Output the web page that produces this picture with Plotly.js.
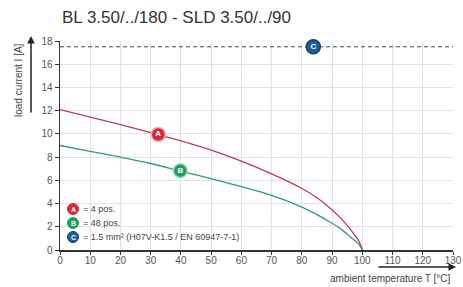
<!DOCTYPE html>
<html>
<head>
<meta charset="utf-8">
<script src="https://cdn.plot.ly/plotly-3.0.1.min.js"></script>
<style>html,body{margin:0;padding:0;background:#fff;}#chart{width:463px;height:287px;}</style>
</head>
<body>
<div id="chart"></div>
<script>
// Derating curves (ambient temperature °C -> load current A)
const tempA = [0,10,20,30,40,50,60,70,80,85,90,93,96,98,99,100];
const currentA = [12.1,11.45,10.8,10.1,9.4,8.6,7.65,6.55,5.3,4.5,3.45,2.7,1.8,1.1,0.7,0];
const tempB = [0,10,20,30,40,50,60,70,80,85,90,93,96,98,99,100];
const currentB = [9.0,8.5,8.0,7.45,6.8,6.15,5.45,4.7,3.7,3.05,2.3,1.8,1.15,0.7,0.45,0];
const tempC = [0,130];
const currentC = [17.5,17.5];
// Curve labels
const labelA = {x:[32.5], y:[9.95], t:['A']};
const labelB = {x:[39.8], y:[6.83], t:['B']};
const labelC = {x:[83.8], y:[17.5], t:['C']};
// Legend
const legendKeys = ['A','B','C'];
const legendTexts = ['= 4 pos.','= 48 pos.','= 1.5 mm² (H07V-K1.5 / EN 60947-7-1)'];
const legendColors = ['#d8283a','#1e9e57','#1b5e9e'];
const xTicks = [0,10,20,30,40,50,60,70,80,90,100,110,120,130];
const yTicks = [0,2,4,6,8,10,12,14,16,18];

const FONT = '"Liberation Sans", Arial, sans-serif';
const L = 60, R = 10, T = 41, B = 37, W = 463, H = 287;
const PW = W - L - R, PH = H - T - B;
const px = v => (v - L) / PW;
const py = v => (H - B - v) / PH;

function lbl(d, color, line) {
  return {x:d.x, y:d.y, text:d.t, type:'scatter', mode:'markers+text', cliponaxis:false,
    marker:{size:14, color:color, line:{color:line, width:1.5}},
    textposition:'middle center', textfont:{family:FONT, size:8, color:'#fff', weight:'bold'},
    hoverinfo:'skip', showlegend:false};
}

const traces = [
  {x:tempC, y:currentC, type:'scatter', mode:'lines', line:{color:'#2b4f74', width:1, dash:'4px,3px'}, showlegend:false},
  {x:tempA, y:currentA, type:'scatter', mode:'lines', line:{color:'#b7404f', width:1.3, shape:'spline', smoothing:0.8}, showlegend:false},
  {x:tempB, y:currentB, type:'scatter', mode:'lines', line:{color:'#2f9b7c', width:1.3, shape:'spline', smoothing:0.8}, showlegend:false},
  lbl(labelA, legendColors[0], '#f3b0b6'),
  lbl(labelB, legendColors[1], '#a8dcbc'),
  lbl(labelC, legendColors[2], '#123f6e'),
];

const shapes = [
  {type:'rect', xref:'paper', yref:'paper', x0:px(62), x1:px(278), y0:0.004, y1:py(197),
   fillcolor:'#fff', line:{width:0}, layer:'between'}
];
const annotations = [];
const legY = [209, 223, 237];
legendKeys.forEach((k, i) => {
  shapes.push({type:'circle', xref:'paper', yref:'paper', xsizemode:'pixel', ysizemode:'pixel',
    xanchor:px(73), yanchor:py(legY[i]), x0:-5.5, x1:5.5, y0:-5.5, y1:5.5,
    fillcolor:legendColors[i], line:{color: i===2 ? '#123f6e' : legendColors[i], width:1}, layer:'above'});
  annotations.push({xref:'paper', yref:'paper', x:px(73), y:py(legY[i]), text:'<b>'+k+'</b>', showarrow:false,
    font:{family:FONT, size:7, color:'#fff'}, xanchor:'center', yanchor:'middle'});
  annotations.push({xref:'paper', yref:'paper', x:px(81), y:py(legY[i]), text:legendTexts[i], showarrow:false,
    font:{family:FONT, size:9, color:'#444'}, xanchor:'left', yanchor:'middle'});
});
// axis titles and arrows
annotations.push({xref:'paper', yref:'paper', x:px(18), y:py(80), text:'load current I [A]', textangle:-90,
  showarrow:false, font:{family:FONT, size:10, color:'#444'}, xanchor:'center', yanchor:'middle'});
annotations.push({xref:'paper', yref:'paper', x:px(31), y:py(36), text:'', showarrow:true, ax:0, ay:78,
  arrowhead:2, arrowsize:1, arrowwidth:1.5, arrowcolor:'#222'});
annotations.push({xref:'paper', yref:'paper', x:1.0, y:py(278), text:'ambient temperature T [°C]',
  showarrow:false, font:{family:FONT, size:10, color:'#444'}, xanchor:'right', yanchor:'middle'});
annotations.push({xref:'paper', yref:'paper', x:px(456), y:py(267), text:'', showarrow:true, ax:-79, ay:0,
  arrowhead:2, arrowsize:1, arrowwidth:1.5, arrowcolor:'#222'});

const layout = {
  width:W, height:H, margin:{l:L, r:R, t:T, b:B}, paper_bgcolor:'#fff', plot_bgcolor:'#fff',
  font:{family:FONT, color:'#444'},
  title:{text:'BL 3.50/../180 - SLD 3.50/../90', x:62/W, xanchor:'left', xref:'container',
    y:1-17/H, yanchor:'middle', yref:'container', font:{family:FONT, size:17, color:'#333'}},
  xaxis:{range:[0,130], tickvals:xTicks, ticktext:xTicks.map(String), showgrid:true, gridcolor:'#e2e2e2', gridwidth:1,
    zeroline:false, showline:true, linecolor:'#333', linewidth:1.5, ticks:'outside', ticklen:3, tickcolor:'#333',
    ticklabelstandoff:-3,
    tickfont:{family:FONT, size:10, color:'#555'}, fixedrange:true},
  yaxis:{range:[0,18], tickvals:yTicks, ticktext:yTicks.map(String), showgrid:true, gridcolor:'#e2e2e2', gridwidth:1,
    zeroline:false, showline:true, linecolor:'#333', linewidth:1.5, ticks:'outside', ticklen:4, tickcolor:'#333',
    tickfont:{family:FONT, size:10, color:'#555'}, fixedrange:true},
  shapes:shapes, annotations:annotations, showlegend:false
};
Plotly.newPlot('chart', traces, layout, {staticPlot:true, displayModeBar:false});
</script>
</body>
</html>
